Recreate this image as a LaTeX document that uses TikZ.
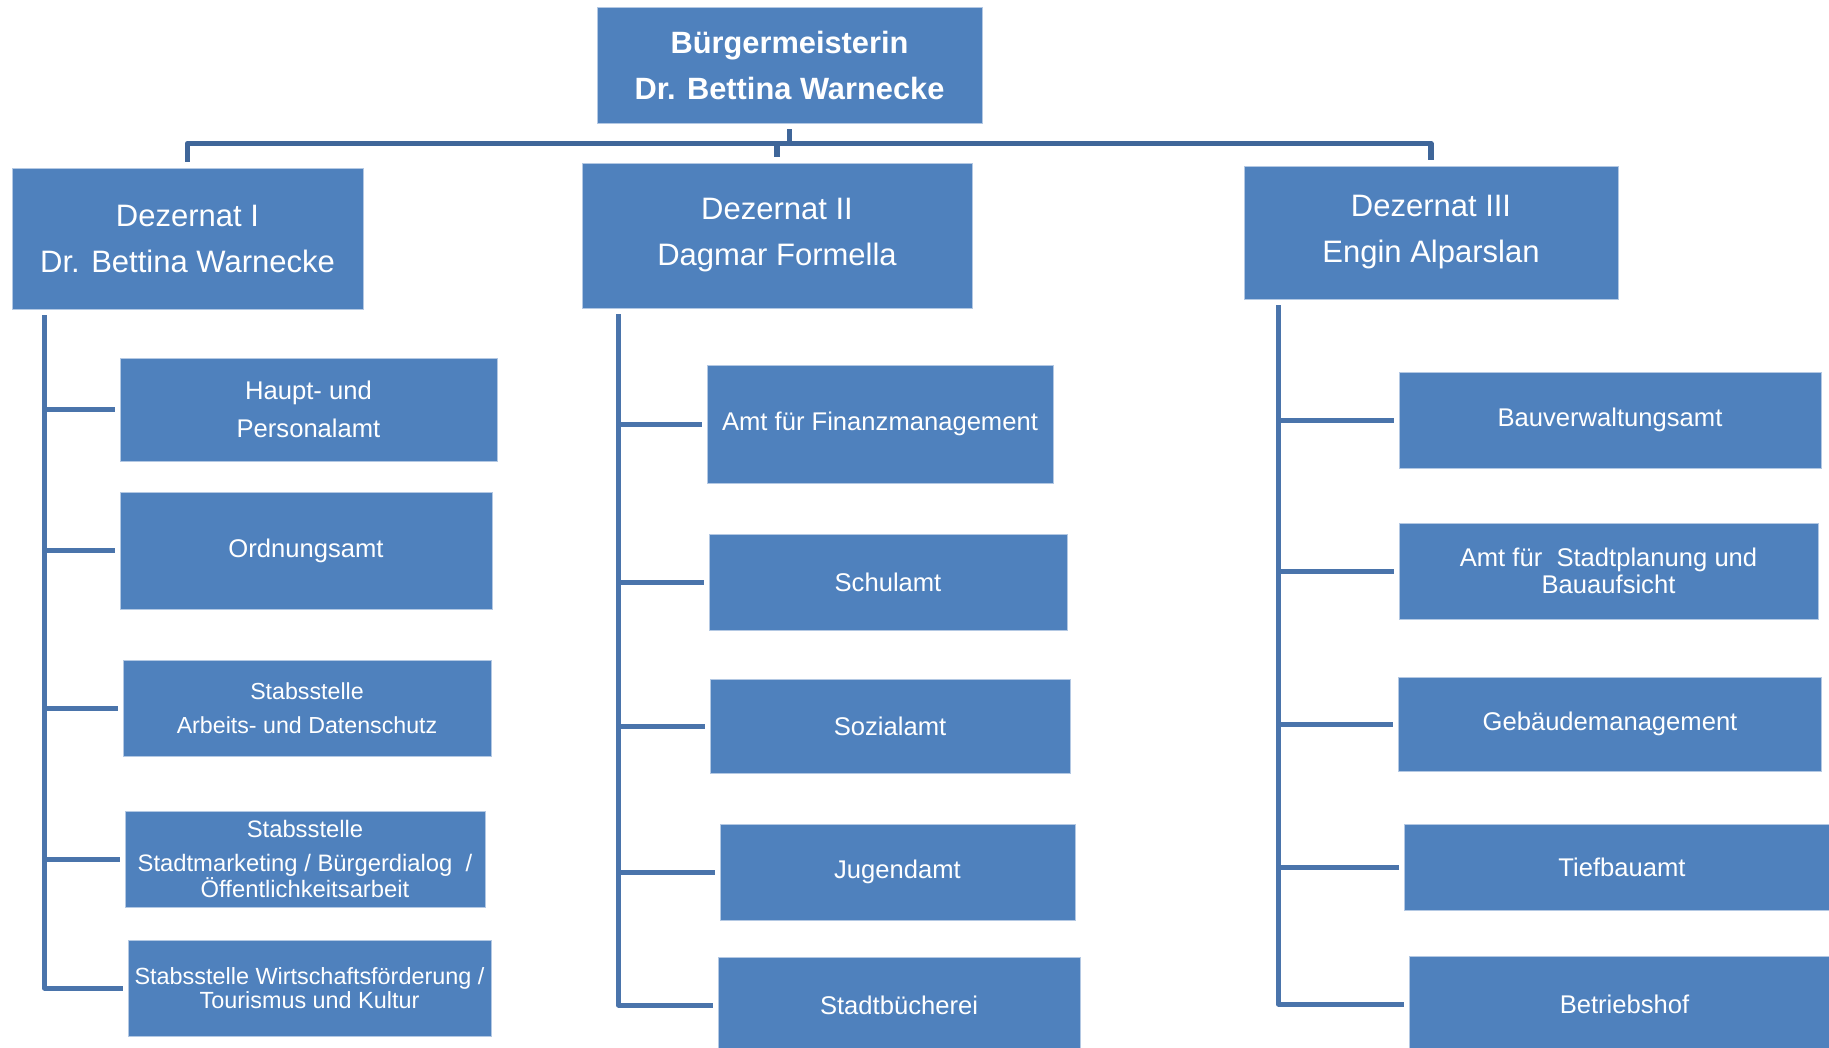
\documentclass[tikz,border=0pt]{standalone}
\usepackage{fontspec}
\setmainfont{Liberation Sans}
\usepackage{xcolor}
\usepackage{tikz}
\usetikzlibrary{positioning}

\definecolor{boxblue}{HTML}{4F81BD}
\definecolor{boxedge}{HTML}{B3C8E3}
\definecolor{linetop}{HTML}{3F6699}
\definecolor{linestem}{HTML}{4A74AB}

\begin{document}
\begin{tikzpicture}[x=0.5pt, y=-0.5pt,
    amtbox/.style={draw=boxedge, line width=0.4pt, fill=boxblue, text=white,
                   align=center, inner sep=0pt, font=\fontsize{12.8}{18.7}\selectfont},
    chefbox/.style={amtbox, font=\bfseries\fontsize{15.4}{23}\selectfont},
    dezbox/.style={amtbox, font=\fontsize{15.5}{23}\selectfont},
    stabbox/.style={amtbox, font=\fontsize{11.7}{12}\selectfont},
    topline/.style={draw=linetop, line width=2.6pt, line join=round},
    stemline/.style={draw=linestem, line width=2.5pt, line join=round, shorten >=2.5pt}]
  \useasboundingbox (0,0) rectangle (1829,1048);

  % Leitung
  \node[chefbox, minimum width=192.5pt, minimum height=58pt] (buerg) at (789.5,65)
    {Bürgermeisterin\\Dr. Bettina Warnecke};

  % Dezernate
  \node[dezbox, minimum width=175.5pt, minimum height=70.5pt] (dez1) at (187.5,238.5)
    {Dezernat I\\Dr. Bettina Warnecke};
  \node[dezbox, minimum width=195pt, minimum height=72.5pt] (dez2) at (777,235.5)
    {Dezernat II\\Dagmar Formella};
  \node[dezbox, minimum width=187pt, minimum height=66.5pt] (dez3) at (1431,232.5)
    {Dezernat III\\Engin Alparslan};

  % Dezernat I
  \node[amtbox, minimum width=188.5pt, minimum height=51.5pt] (haupt) at (308.5,409.5)
    {Haupt- und\\Personalamt};
  \node[amtbox, minimum width=186pt, minimum height=58.5pt] (ordnung) at (306,550.5)
    {Ordnungsamt};
  \node[stabbox, font=\fontsize{11.6}{17}\selectfont, minimum width=184pt, minimum height=48pt]
    (arbeit) at (307,708) {Stabsstelle\\Arbeits- und Datenschutz};
  \node[stabbox, font=\fontsize{11.9}{12}\selectfont, minimum width=180pt, minimum height=48pt]
    (marketing) at (305,859)
    {Stabsstelle\\[5pt]Stadtmarketing / Bürgerdialog\ \ /\\Öffentlichkeitsarbeit};
  \node[stabbox, minimum width=181.5pt, minimum height=48pt] (wirtschaft) at (309.5,988)
    {Stabsstelle Wirtschaftsförderung /\\Tourismus und Kultur};

  % Dezernat II
  \node[amtbox, minimum width=173pt, minimum height=59pt] (finanz) at (880,424)
    {Amt für Finanzmanagement};
  \node[amtbox, minimum width=179pt, minimum height=48pt] (schul) at (888,582) {Schulamt};
  \node[amtbox, minimum width=180pt, minimum height=47pt] (sozial) at (890,726) {Sozialamt};
  \node[amtbox, minimum width=177.5pt, minimum height=48pt] (jugend) at (897.5,872) {Jugendamt};
  \node[amtbox, minimum width=181pt, minimum height=48pt] (buecherei) at (899,1005) {Stadtbücherei};

  % Dezernat III
  \node[amtbox, minimum width=211pt, minimum height=48pt] (bauverw) at (1610,420)
    {Bauverwaltungsamt};
  \node[amtbox, font=\fontsize{12.8}{13.3}\selectfont, minimum width=209.5pt, minimum height=48pt]
    (stadtpl) at (1608.5,571) {Amt für\ \ Stadtplanung und\\Bauaufsicht};
  \node[amtbox, minimum width=211.5pt, minimum height=47pt] (gebaeude) at (1610,724)
    {Gebäudemanagement};
  \node[amtbox, minimum width=218pt, minimum height=43pt] (tiefbau) at (1622,867) {Tiefbauamt};
  \node[amtbox, minimum width=215.5pt, minimum height=48pt] (betrieb) at (1624.5,1004) {Betriebshof};

  % Verbindungen oben
  \coordinate (hub) at ([yshift=-10pt]buerg.south);
  \draw[topline, shorten <=3pt] (buerg.south) -- (hub);
  \foreach \d in {dez1, dez2, dez3}
    \draw[topline, shorten >=3pt] (hub) -| (\d.north);

  % Stammlinien
  \coordinate (t1) at ([xshift=16.5pt, yshift=-3pt]dez1.south west);
  \coordinate (t2) at ([xshift=18.5pt, yshift=-3pt]dez2.south west);
  \coordinate (t3) at ([xshift=17.5pt, yshift=-3pt]dez3.south west);

  \draw[stemline] (t1) |- (wirtschaft.west);
  \foreach \n in {haupt, ordnung, arbeit, marketing}
    \draw[stemline] (t1 |- \n.west) -- (\n.west);

  \draw[stemline] (t2) |- (buecherei.west);
  \foreach \n in {finanz, schul, sozial, jugend}
    \draw[stemline] (t2 |- \n.west) -- (\n.west);

  \draw[stemline] (t3) |- (betrieb.west);
  \foreach \n in {bauverw, stadtpl, gebaeude, tiefbau}
    \draw[stemline] (t3 |- \n.west) -- (\n.west);
\end{tikzpicture}
\end{document}
